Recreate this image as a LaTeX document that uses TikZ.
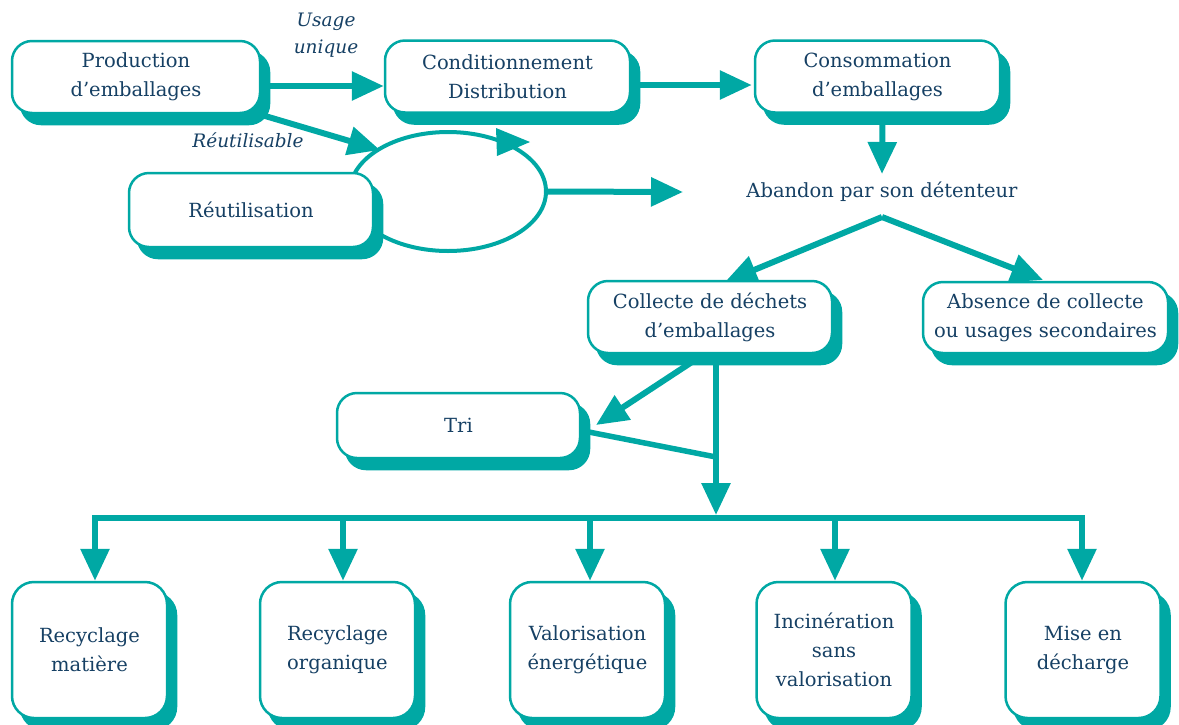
\documentclass[tikz,border=0pt]{standalone}
\usepackage{fontspec}
\setmainfont{DejaVu Serif}
\usetikzlibrary{arrows.meta,shapes.geometric,shadows,calc,backgrounds}
\definecolor{tl}{RGB}{0,168,164}
\definecolor{nv}{RGB}{22,64,100}
\tikzset{
  box/.style={draw=tl, line width=2.5pt, fill=white, rounded corners=20pt,
    text=nv, align=center, inner sep=0pt,
    font=\fontsize{19.5}{29}\selectfont,
    general shadow={fill=tl, draw=tl, shadow xshift=9pt, shadow yshift=-11pt}},
  wide/.style={box, minimum width=245pt, minimum height=72pt},
  tall/.style={box, minimum width=155pt, minimum height=136pt, rounded corners=22pt},
  lbl/.style={text=nv, align=center, inner sep=0pt, font=\fontsize{18.5}{27}\selectfont\itshape},
  plain/.style={text=nv, inner sep=0pt, font=\fontsize{19.5}{29}\selectfont},
  conn/.style={draw=tl, line width=6pt},
  arr/.style={conn, -{Triangle[length=32pt,width=28pt]}},
  tip/.style={fill=tl, draw=none}
}
\begin{document}
\begin{tikzpicture}[x=1pt,y=-1pt]
\useasboundingbox (0,0) rectangle (1179,724);
% top row
\node[wide, minimum width=248pt] (prod) at (136,77) {Production\\d’emballages};
\node[wide] (cond) at (507.5,76.5) {Conditionnement\\Distribution};
\node[wide] (cons) at (877.5,76.5) {Consommation\\d’emballages};
% reuse loop
\node[ellipse, draw=tl, line width=4pt, minimum width=196pt, minimum height=119pt, inner sep=0pt] (ell) at (448,191.5) {};
\node[wide, minimum width=244pt, minimum height=74pt] (reut) at (251,210) {Réutilisation};
\node[plain] (ab) at (882,192) {Abandon par son détenteur};
% second level
\node[wide, minimum width=244pt] (coll) at (710,317) {Collecte de déchets\\d’emballages};
\node[wide, minimum height=71pt] (abs) at (1045.5,317.5) {Absence de collecte\\ou usages secondaires};
\node[wide, minimum width=243pt, minimum height=65pt] (tri) at (458.5,425.5) {Tri};
% bottom row
\node[tall] (b1) at (89.5,650) {Recyclage\\matière};
\node[tall] (b2) at (337.5,650) {Recyclage\\organique};
\node[tall] (b3) at (587.5,650) {Valorisation\\énergétique};
\node[tall] (b4) at (834,650) {Incinération\\sans\\valorisation};
\node[tall] (b5) at (1083,650) {Mise en\\décharge};
% labels
\node[lbl] (lu) at (326,35) {Usage\\unique};
\node[lbl] (lr) at (248,140) {Réutilisable};
% ellipse arrowhead
\coordinate (e1) at (496,128);
\coordinate (e2) at (530,142);
\coordinate (e3) at (497,156);
\fill[tip] (e1) -- (e2) -- (e3) -- cycle;
% coordinates for connectors
\coordinate (abt) at (683,192);
\coordinate (ap) at (882,217);
\coordinate (jt) at (716,457);
\coordinate (j1) at (95,518);
\coordinate (j2) at (343,518);
\coordinate (j3) at (590,518);
\coordinate (j4) at (835,518);
\coordinate (j5) at (1082,518);
\begin{scope}[on background layer]
\draw[arr] ($(prod.east)+(0,9)$) -- ($(cond.west)+(0,9.5)$);
\draw[arr] ($(cond.east)+(0,8.5)$) -- ($(cons.west)+(-2,8.5)$);
\draw[arr] ($(prod.south east)+(-2,0)$) -- (380,150);
\draw[arr] (ell.east) -- (abt);
\draw[arr] ($(cons.south)+(5,0)$) -- ($(ab.north)+(0,-8)$);
\draw[arr] (ap) -- (725,282);
\draw[arr] (ap) -- (1043,280);
\draw[arr] (695,360) -- (596,425);
\draw[arr] (716,360) -- (716,515);
\draw[conn, line width=5.5pt] (tri.east) ++(5,6) -- (jt);
\draw[conn, line cap=rect] (j1) -- (j5);
\draw[arr] (j1) -- (j1 |- b1.north);
\draw[arr] (j2) -- (j2 |- b2.north);
\draw[arr] (j3) -- (j3 |- b3.north);
\draw[arr] (j4) -- (j4 |- b4.north);
\draw[arr] (j5) -- (j5 |- b5.north);
\end{scope}
\end{tikzpicture}
\end{document}
